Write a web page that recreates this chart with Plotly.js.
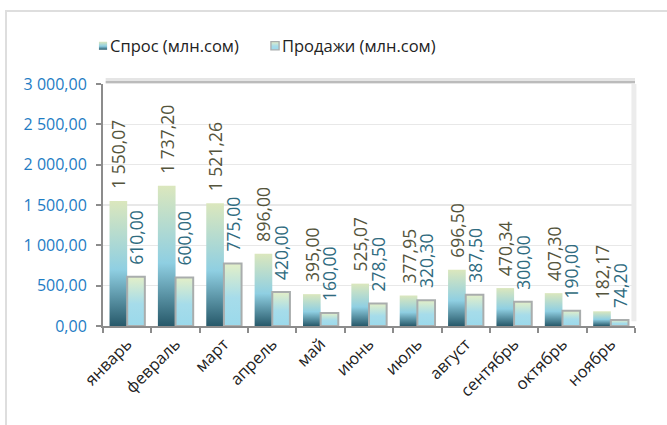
<!DOCTYPE html>
<html>
<head>
<meta charset="utf-8">
<script src="https://cdn.plot.ly/plotly-3.0.1.min.js"></script>
<style>
html,body{margin:0;padding:0;background:#fff;}
#frame{position:absolute;left:5px;top:10px;width:700px;height:500px;border:2px solid #dedede;box-sizing:border-box;}
#chart{position:absolute;left:0;top:0;width:667px;height:425px;}
</style>
</head>
<body>
<div id="frame"></div>
<div id="chart"></div>
<script>
const months = ['январь','февраль','март','апрель','май','июнь','июль','август','сентябрь','октябрь','ноябрь'];
const demand = [1550.07, 1737.20, 1521.26, 896.00, 395.00, 525.07, 377.95, 696.50, 470.34, 407.30, 182.17];
const sales = [610.00, 600.00, 775.00, 420.00, 160.00, 278.50, 320.30, 387.50, 300.00, 190.00, 74.20];
const seriesNames = ['Спрос (млн.сом)', 'Продажи (млн.сом)'];

const FONT = '"Open Sans", sans-serif';
const pad = '\u00a0\u00a0';

const traces = [
  {
    type: 'bar', name: seriesNames[0], x: months, y: demand,
    marker: {color: '#8fcfe2', line: {width: 0}},
    texttemplate: pad + '%{y:,.2f}', textposition: 'outside', textangle: -90,
    constraintext: 'none', cliponaxis: false,
    textfont: {family: FONT, size: 17.5, color: '#54543c'},
    hoverinfo: 'skip'
  },
  {
    type: 'bar', name: seriesNames[1], x: months, y: sales,
    marker: {color: '#a3dbea', line: {width: 2, color: '#a9adad'}},
    texttemplate: pad + '%{y:,.2f}', textposition: 'outside', textangle: -90,
    constraintext: 'none', cliponaxis: false,
    textfont: {family: FONT, size: 17.5, color: '#2f6b80'},
    hoverinfo: 'skip'
  }
];

const layout = {
  width: 667, height: 425,
  margin: {l: 103, r: 32, t: 84, b: 99},
  paper_bgcolor: 'rgba(0,0,0,0)',
  plot_bgcolor: '#ffffff',
  separators: ', ',
  font: {family: FONT, size: 16.5, color: '#222'},
  barmode: 'group', bargap: 0.27, bargroupgap: 0,
  showlegend: true,
  legend: {orientation: 'h', x: -0.062, xanchor: 'left', y: 1.157, yanchor: 'middle',
           font: {family: FONT, size: 16.5, color: '#222'}, bgcolor: 'rgba(0,0,0,0)',
           traceorder: 'normal'},
  xaxis: {
    type: 'category', tickangle: -45, tickson: 'boundaries', ticks: 'outside', ticklen: 5,
    tickcolor: '#8c8c8c', tickwidth: 2, showline: true, linecolor: '#8c8c8c', linewidth: 2,
    showgrid: false, tickfont: {family: FONT, size: 16.5, color: '#222'}
  },
  yaxis: {
    range: [0, 3000], dtick: 500, tickformat: ',.2f', ticks: 'outside', ticklen: 5,
    tickcolor: '#8c8c8c', tickwidth: 2, showline: true, linecolor: '#8c8c8c', linewidth: 2,
    gridcolor: '#e8e8e8', gridwidth: 1.5, zeroline: false, ticklabelstandoff: 6,
    tickfont: {family: FONT, size: 16, color: '#1e7cc4'}
  },
  shapes: [
    {type: 'line', xref: 'paper', yref: 'paper', x0: 0.005, x1: 1.0, y0: 1.012, y1: 1.012,
     line: {color: 'rgba(0,0,0,0.10)', width: 6}, layer: 'below'},
    {type: 'line', xref: 'paper', yref: 'paper', x0: 0.005, x1: 1.0, y0: 1.008, y1: 1.008,
     line: {color: 'rgba(0,0,0,0.18)', width: 2}, layer: 'below'},
    {type: 'line', xref: 'paper', yref: 'paper', x0: 0.998, x1: 0.998, y0: 0.02, y1: 1.0,
     line: {color: '#ececec', width: 5}, layer: 'above'}
  ]
};

function addGradients(gd) {
  const svg = gd.querySelector('svg.main-svg');
  const ns = 'http://www.w3.org/2000/svg';
  let defs = svg.querySelector('defs');
  if (!defs) { defs = document.createElementNS(ns, 'defs'); svg.insertBefore(defs, svg.firstChild); }
  const grads = {
    gDemand: [[0, '#27596a'], [0.45, '#8fcfe2'], [1, '#dbe7bd']],
    gSales: [[0, '#9bd9eb'], [0.45, '#a6dcea'], [1, '#e3efc8']]
  };
  Object.keys(grads).forEach(id => {
    const lg = document.createElementNS(ns, 'linearGradient');
    lg.setAttribute('id', id);
    lg.setAttribute('x1', '0'); lg.setAttribute('y1', '1');
    lg.setAttribute('x2', '0'); lg.setAttribute('y2', '0');
    grads[id].forEach(s => {
      const st = document.createElementNS(ns, 'stop');
      st.setAttribute('offset', s[0]);
      st.setAttribute('stop-color', s[1]);
      lg.appendChild(st);
    });
    defs.appendChild(lg);
  });
  const ids = ['gDemand', 'gSales'];
  gd.querySelectorAll('.barlayer .trace.bars').forEach((tr, i) => {
    tr.querySelectorAll('.point path').forEach(p => { p.style.fill = 'url(#' + ids[i] + ')'; });
  });
  const items = gd.querySelectorAll('.legend .traces');
  let firstX = null, firstY = 0;
  items.forEach((tr, i) => {
    tr.querySelectorAll('.legendpoints path').forEach(p => {
      p.style.fill = 'url(#' + ids[i] + ')';
      p.setAttribute('transform', 'translate(33,0) scale(0.68)');
    });
    const m = /translate\(\s*([-\d.]+)[ ,]+([-\d.]+)\s*\)/.exec(tr.getAttribute('transform') || '');
    if (m) {
      if (i === 0) { firstX = parseFloat(m[1]); firstY = parseFloat(m[2]); }
      else if (firstX !== null) {
        tr.setAttribute('transform', 'translate(' + (firstX + 172 * i) + ',' + parseFloat(m[2]) + ')');
      }
    }
  });
}

Plotly.newPlot('chart', traces, layout, {staticPlot: true}).then(addGradients);
</script>
</body>
</html>
